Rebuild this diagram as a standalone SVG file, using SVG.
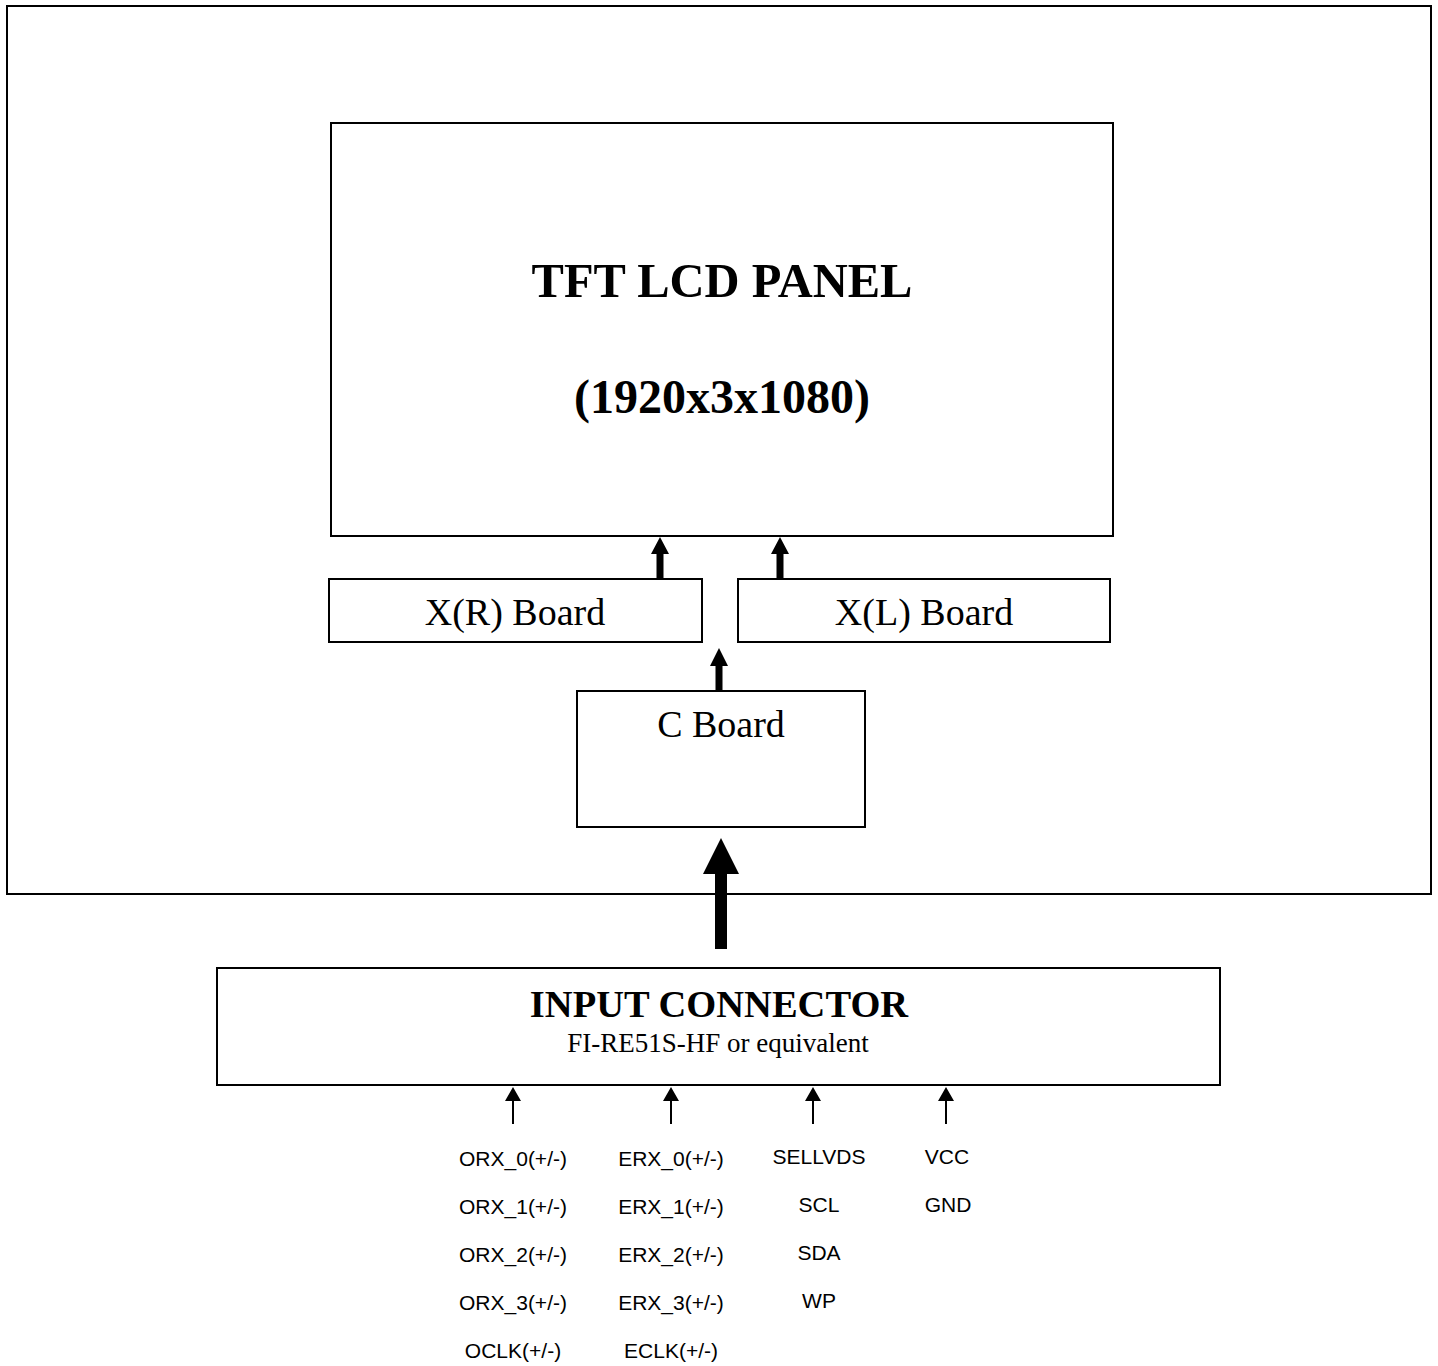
<svg xmlns="http://www.w3.org/2000/svg" width="1438" height="1366" viewBox="0 0 1438 1366">
<style>
.box{fill:#fff;stroke:#000;stroke-width:2}
.ser{font-family:"Liberation Serif","Times New Roman",serif;fill:#000;text-anchor:middle}
.b{font-weight:bold}
.sig{font-family:"Liberation Sans",Arial,sans-serif;font-size:21px;fill:#000;text-anchor:middle}
.arr{fill:#000;stroke:none}
</style>
<rect width="1438" height="1366" fill="#fff"/>
<g id="frame"><rect class="box" x="7" y="6" width="1424" height="888"/></g>
<g id="panel">
<rect class="box" x="331" y="123" width="782" height="413"/>
<text class="ser b" x="722" y="297" font-size="48.5">TFT LCD PANEL</text>
<text class="ser b" x="722" y="413" font-size="48">(1920x3x1080)</text>
</g>
<g id="xr-board">
<rect class="box" x="329" y="579" width="373" height="63"/>
<text class="ser" x="515" y="625" font-size="38">X(R) Board</text>
</g>
<g id="xl-board">
<rect class="box" x="738" y="579" width="372" height="63"/>
<text class="ser" x="924" y="625" font-size="38">X(L) Board</text>
</g>
<g id="c-board">
<rect class="box" x="577" y="691" width="288" height="136"/>
<text class="ser" x="721" y="737" font-size="38">C Board</text>
</g>
<g id="input-connector">
<rect class="box" x="217" y="968" width="1003" height="117"/>
<text class="ser b" x="719" y="1017" font-size="38.5">INPUT CONNECTOR</text>
<text class="ser" x="718" y="1052" font-size="27">FI-RE51S-HF or equivalent</text>
</g>
<g id="connectors">
<polygon class="arr" points="660,537 669,554 663.5,554 663.5,579 656.5,579 656.5,554 651,554"/>
<polygon class="arr" points="780,537 789,554 783.5,554 783.5,579 776.5,579 776.5,554 771,554"/>
<polygon class="arr" points="719,648 728,666 722.5,666 722.5,691 715.5,691 715.5,666 710,666"/>
<polygon class="arr" points="721,838 739,874 727,874 727,949 715,949 715,874 703,874"/>
<polygon class="arr" points="513,1087 521,1101 514,1101 514,1124 512,1124 512,1101 505,1101"/>
<polygon class="arr" points="671,1087 679,1101 672,1101 672,1124 670,1124 670,1101 663,1101"/>
<polygon class="arr" points="813,1087 821,1101 814,1101 814,1124 812,1124 812,1101 805,1101"/>
<polygon class="arr" points="946,1087 954,1101 947,1101 947,1124 945,1124 945,1101 938,1101"/>
</g>
<g id="signals">
<text class="sig" x="513" y="1166">ORX_0(+/-)</text>
<text class="sig" x="513" y="1214">ORX_1(+/-)</text>
<text class="sig" x="513" y="1262">ORX_2(+/-)</text>
<text class="sig" x="513" y="1310">ORX_3(+/-)</text>
<text class="sig" x="513" y="1358">OCLK(+/-)</text>
<text class="sig" x="671" y="1166">ERX_0(+/-)</text>
<text class="sig" x="671" y="1214">ERX_1(+/-)</text>
<text class="sig" x="671" y="1262">ERX_2(+/-)</text>
<text class="sig" x="671" y="1310">ERX_3(+/-)</text>
<text class="sig" x="671" y="1358">ECLK(+/-)</text>
<text class="sig" x="819" y="1164">SELLVDS</text>
<text class="sig" x="819" y="1212">SCL</text>
<text class="sig" x="819" y="1260">SDA</text>
<text class="sig" x="819" y="1308">WP</text>
<text class="sig" x="947" y="1164">VCC</text>
<text class="sig" x="948" y="1212">GND</text>
</g>
</svg>
